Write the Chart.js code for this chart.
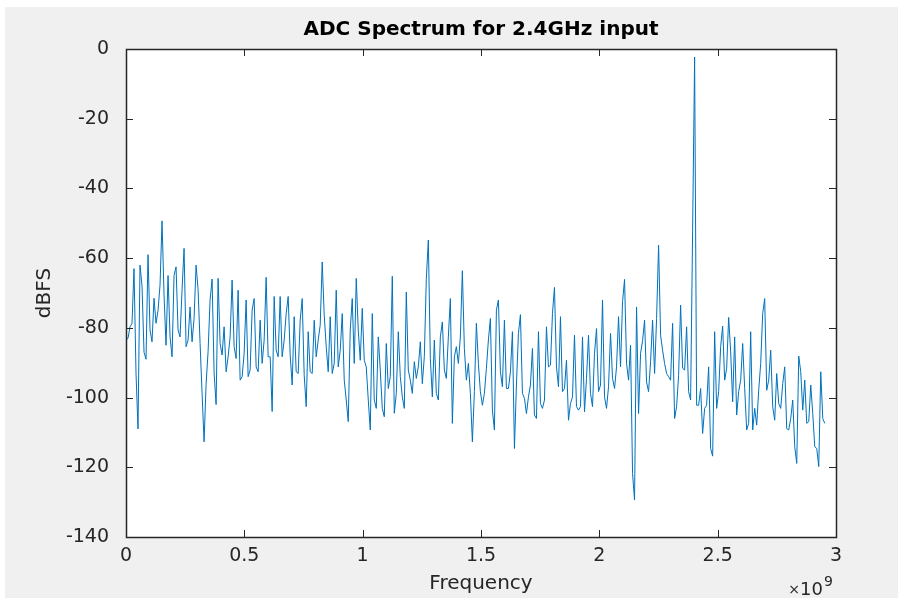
<!DOCTYPE html>
<html lang="en">
<head>
  <meta charset="UTF-8">
  <title>ADC Spectrum for 2.4GHz input</title>
  <script src="https://cdn.jsdelivr.net/npm/chart.js"></script>
  <style>
    html, body {
      margin: 0;
      padding: 0;
      background-color: #fff;
    }
    #wrap {
      position: relative;
      width: 902px;
      height: 598px;
    }
  </style>
</head>
<body>
  <div id="wrap">
    <canvas id="chart"></canvas>
  </div>

  <script>
    // FFT bin spacing (Hz) and the measured spectrum, one value per bin (dBFS)
    const freqStep = 8.46e6;
    const dbfs = [
      -83.5, -83, -79.7, -78.7, -63, -93, -109, -62, -68, -87,
      -89, -59, -80.6, -84, -71.5, -78.7, -75, -67.7, -49.3, -70.6,
      -85, -65, -82.6, -88.3, -65, -62.5, -80.6, -82.6, -69, -57.2,
      -85.4, -83.5, -74, -84, -77.3, -62, -69, -84.5, -98.8, -112.7,
      -96.2, -86.8, -72, -66,
      -93, -102, -65.8, -84.5, -87.8, -79.7, -92.6, -88.3, -82.6, -66.3,
      -85.4, -88.8, -69.2, -95, -94, -87.3, -72, -94, -92.1, -74.9,
      -71.6, -91.2, -92.6, -77.8, -90.2, -83.5, -65.5, -88.3, -88.3, -104,
      -71, -86.4, -88.3, -71, -88.3, -83.5, -75.9, -71, -87.8, -96.4,
      -76.8, -92.6, -93.1, -77.8, -71.6,
      -93.6, -102.6, -81.1, -92.6, -93.1, -77.8, -88.3, -83.5, -79.2, -61.1,
      -76.3, -85.4, -92.6, -76.8, -93.1, -90.2, -69.2, -91.2, -86.4, -75.9,
      -95, -100.7, -106.9, -80.6, -71.6, -90.2, -65.8, -80.6, -89.3, -74.4,
      -89.3, -91.2, -100.7, -109.3, -75.9, -100.7, -103.1, -82.6, -92.1, -103.1,
      -105.5, -84.5, -97.4, -94, -65.2,
      -104.5, -98.8, -81.1, -94, -99.8, -103.1, -69.7, -92.1, -95, -98.8,
      -89.7, -94.5, -91.2, -84, -96, -88.3, -65.8, -54.8, -88.8, -99.8,
      -83.5, -98.8, -100.7, -82.6, -78.3, -92.1, -94.5, -82.6, -71.6, -107.4,
      -88.3, -85.4, -90.2, -82.6, -63.6, -85.9, -95, -90.2, -98.8, -112.7,
      -98.3, -78.7, -90.2, -98.3, -102.2,
      -98.8, -91.6, -83.5, -77.3, -103.6, -109.3, -74.9, -72, -92.6, -96.9,
      -77.8, -97.4, -97.4, -92.6, -81.1, -114.6, -96.4, -81.6, -76.2, -98.8,
      -100.2, -104.6, -99.8, -96.4, -85.9, -105, -106, -81.1, -101.7, -103.1,
      -100.7, -79.7, -91.2, -90.7, -75.9, -68.4, -91.2, -96.9, -76.8, -98.3,
      -97.4, -89.3, -106.5, -101.7, -99.8,
      -82.1, -102.6, -103.6, -102.6, -82.6, -104.1, -94.5, -82.1, -98.8, -102.6,
      -87.3, -80.2, -98.3, -96.4, -72, -99.8, -103.1, -96.9, -81.6, -94.5,
      -97.4, -91.2, -76.8, -91.2, -72.5, -66.1, -90.2, -95, -85, -121.8,
      -129.4, -74, -104.6, -87.3, -83.7, -77.8, -95.5, -98.3, -89.7, -77.8,
      -93.1, -77.3, -56.3, -82.1, -86.4,
      -90.2, -93.1, -94, -95, -78.7, -106, -102.6, -93.6, -73.5, -91.6,
      -92.1, -79.7, -98.3, -100.7, -52, -2.3, -102.2, -102.2, -97.4, -110.3,
      -103.1, -102.2, -91.2, -114.6, -116.8, -81.1, -103.1, -98.3, -85.4, -79.5,
      -95, -91.6, -77, -86.9, -101.2, -82.6, -105, -98.3, -95, -84.5,
      -97.4, -109.3, -107.4, -81.1, -109.3,
      -103.1, -107.9, -97.9, -90.2, -75.9, -71.6, -97.9, -95, -86.4, -102.6,
      -106.5, -93.1, -101.7, -103.1, -96, -91.2, -108.9, -109.3, -106, -100.7,
      -114.1, -118.9, -88.1, -92.6, -103.6, -95, -107.4, -106.9, -96.4, -104.6,
      -114.1, -114.6, -119.8, -92.6, -106, -107.4
    ];

    // axis limits and tick spacing
    const freqMax = 3e9;
    const freqTick = 0.5e9;
    const dbMin = -140;
    const dbMax = 0;
    const dbTick = 20;

    const points = dbfs.map((v, i) => ({ x: i * freqStep, y: v }));

    const axisColor = "#262626";
    const lineBlue = "#0072bd";

    // grey figure, white axes box, inward ticks on all four sides, x exponent
    const matlabFrame = {
      id: "matlabFrame",
      beforeDraw(chart) {
        const { ctx, chartArea: a } = chart;
        ctx.save();
        ctx.fillStyle = "#f0f0f0";
        ctx.fillRect(5, 7, chart.width - 9, chart.height - 7);
        ctx.fillStyle = "#fff";
        ctx.fillRect(a.left, a.top, a.right - a.left, a.bottom - a.top);
        ctx.restore();
      },
      afterDraw(chart) {
        const { ctx, chartArea: a, scales } = chart;
        const len = 7;
        ctx.save();
        ctx.strokeStyle = axisColor;
        ctx.lineWidth = 1;
        ctx.beginPath();
        scales.x.ticks.forEach((t) => {
          const px = Math.round(scales.x.getPixelForValue(t.value)) + 0.5;
          ctx.moveTo(px, a.bottom);
          ctx.lineTo(px, a.bottom - len);
          ctx.moveTo(px, a.top);
          ctx.lineTo(px, a.top + len);
        });
        scales.y.ticks.forEach((t) => {
          const py = Math.round(scales.y.getPixelForValue(t.value)) + 0.5;
          ctx.moveTo(a.left, py);
          ctx.lineTo(a.left + len, py);
          ctx.moveTo(a.right, py);
          ctx.lineTo(a.right - len, py);
        });
        ctx.stroke();
        ctx.lineWidth = 1.5;
        ctx.strokeRect(Math.round(a.left) + 0.5, Math.round(a.top) + 0.5,
          Math.round(a.right - a.left), Math.round(a.bottom - a.top));

        // ×10^9 under the right end of the x axis
        ctx.fillStyle = axisColor;
        ctx.textBaseline = "alphabetic";
        ctx.textAlign = "right";
        ctx.font = "14px 'DejaVu Sans'";
        ctx.fillText("9", a.right - 3, 586);
        ctx.font = "18px 'DejaVu Sans'";
        ctx.fillText("10", a.right - 13, 595);
        ctx.font = "14px 'DejaVu Sans'";
        ctx.fillText("\u00d7", a.right - 36, 594);
        ctx.restore();
      }
    };

    const ctx = document.getElementById("chart").getContext("2d");
    new Chart(ctx, {
      type: "line",
      data: {
        datasets: [
          {
            label: "dBFS",
            data: points,
            borderColor: lineBlue,
            borderWidth: 1,
            pointRadius: 0,
            tension: 0,
            fill: false
          }
        ]
      },
      options: {
        responsive: true,
        maintainAspectRatio: false,
        devicePixelRatio: 1,
        animation: false,
        layout: { padding: { left: 0, right: 66, top: 0, bottom: 0 } },
        plugins: {
          legend: { display: false },
          tooltip: { enabled: false },
          title: {
            display: true,
            text: "ADC Spectrum for 2.4GHz input",
            fullSize: false,
            color: "#000",
            font: { family: "'DejaVu Sans'", size: 20, weight: "bold" },
            padding: { top: 18, bottom: 7 }
          }
        },
        scales: {
          x: {
            type: "linear",
            min: 0,
            max: freqMax,
            grid: { display: false },
            border: { display: false },
            ticks: {
              stepSize: freqTick,
              color: axisColor,
              padding: 0,
              maxRotation: 0,
              font: { family: "'DejaVu Sans'", size: 19 },
              callback: (v) => String(v / 1e9)
            },
            title: {
              display: true,
              text: "Frequency",
              color: axisColor,
              font: { family: "'DejaVu Sans'", size: 20 },
              padding: { top: 0, bottom: 2 }
            },
            afterFit: (scale) => { scale.height = 61; }
          },
          y: {
            min: dbMin,
            max: dbMax,
            grid: { display: false },
            border: { display: false },
            ticks: {
              stepSize: dbTick,
              color: axisColor,
              padding: 9,
              font: { family: "'DejaVu Sans'", size: 19 }
            },
            title: {
              display: true,
              text: "dBFS",
              color: axisColor,
              font: { family: "'DejaVu Sans'", size: 20 },
              padding: { top: 33, bottom: 0 }
            },
            afterFit: (scale) => { scale.width = 126; }
          }
        }
      },
      plugins: [matlabFrame]
    });
  </script>
</body>
</html>
